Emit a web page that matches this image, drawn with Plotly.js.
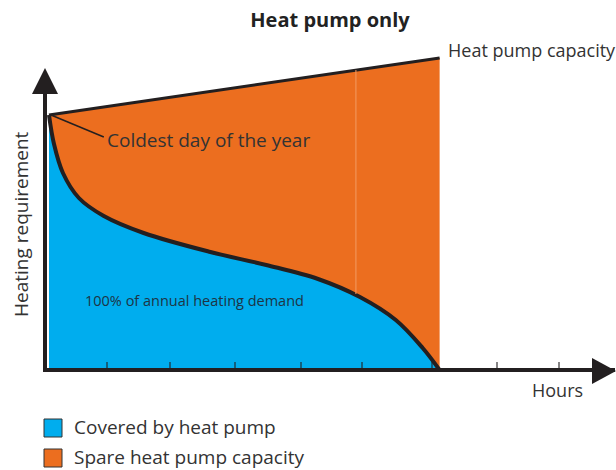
<!DOCTYPE html>
<html>
<head>
<meta charset="utf-8">
<script src="https://cdn.plot.ly/plotly-3.0.1.min.js"></script>
<style>html,body{margin:0;padding:0;background:#fff;}#chart{width:616px;height:470px;}</style>
</head>
<body>
<div id="chart"></div>
<script>
// Load-duration curve (hours on x, heating requirement on y), arbitrary units
var demandHours = [0, 5, 14, 30, 55, 95, 162, 218, 270, 312, 348, 375, 392];
var demandValue = [255, 226, 197, 172, 154, 137, 118, 105, 91, 73, 50, 22, 0];
var capacityHours = [0, 392];
var capacityValue = [255, 312];
var seamHours = [308, 308];
var seamValue = [76, 300];
var tickHours = [58, 121, 187, 253, 314, 384, 450, 512];

var BLUE = '#00adee', ORANGE = '#ec6e1f', INK = '#231f20', TXT = '#333333';
var FONT = 'Open Sans, sans-serif';

var traces = [
  {x: capacityHours, y: capacityValue, type: 'scatter', mode: 'lines', fill: 'tozeroy',
   fillcolor: ORANGE, line: {color: INK, width: 3}, hoverinfo: 'skip'},
  {x: demandHours, y: demandValue, type: 'scatter', mode: 'lines', fill: 'tozeroy',
   fillcolor: BLUE, line: {color: INK, width: 4, shape: 'spline', smoothing: 1}, hoverinfo: 'skip'},
  {x: seamHours, y: seamValue, type: 'scatter', mode: 'lines',
   line: {color: '#f39a62', width: 1}, hoverinfo: 'skip'}
];

// plot area: x px 47..615, y px 40..368
function px(x){ return (x - 47) / 568; }
function py(y){ return (368 - y) / 328; }

var ann = function(text, x, y, size, opts){
  var a = {text: text, xref: 'paper', yref: 'paper', x: px(x), y: py(y), showarrow: false,
    xanchor: 'left', yanchor: 'middle', font: {family: FONT, size: size, color: TXT}};
  for (var k in (opts||{})) a[k] = opts[k];
  return a;
};

var layout = {
  width: 616, height: 470,
  margin: {l: 47, r: 1, t: 40, b: 102},
  paper_bgcolor: '#fff', plot_bgcolor: '#fff',
  showlegend: false, hovermode: false,
  title: {text: '<b>Heat pump only</b>', x: 330/616, xref: 'container', xanchor: 'center',
          y: 1 - 20/470, yref: 'container', yanchor: 'middle',
          font: {family: FONT, size: 20, color: '#222'}},
  xaxis: {range: [-2, 568], showline: true, linewidth: 4, linecolor: INK, showgrid: false,
          zeroline: false, ticks: 'inside', ticklen: 6, tickwidth: 2, tickcolor: 'rgba(35,31,32,0.55)',
          tickvals: tickHours, ticktext: tickHours.map(function(){return '';}), fixedrange: true},
  yaxis: {range: [2, 330], showline: false, showgrid: false,
          zeroline: false, showticklabels: false, ticks: '', fixedrange: true},
  shapes: [
    {type: 'line', xref: 'paper', yref: 'paper', x0: px(45), x1: px(45), y0: py(372), y1: py(90),
     line: {color: INK, width: 4}},
    {type: 'path', xref: 'paper', yref: 'paper',
     path: 'M ' + px(45) + ' ' + py(68) + ' L ' + px(32) + ' ' + py(94) + ' L ' + px(58) + ' ' + py(94) + ' Z',
     fillcolor: INK, line: {width: 0}},
    {type: 'path', xref: 'paper', yref: 'paper',
     path: 'M ' + px(616) + ' ' + py(371) + ' L ' + px(592) + ' ' + py(358) + ' L ' + px(592) + ' ' + py(384) + ' Z',
     fillcolor: INK, line: {width: 0}},
    {type: 'line', xref: 'x', yref: 'y', x0: demandHours[0] + 2, y0: demandValue[0], x1: 55, y1: 233,
     line: {color: INK, width: 1.5}},
    {type: 'rect', xref: 'paper', yref: 'paper', x0: px(44), x1: px(62), y0: py(419), y1: py(437),
     fillcolor: BLUE, line: {color: '#333', width: 1}},
    {type: 'rect', xref: 'paper', yref: 'paper', x0: px(44), x1: px(62), y0: py(449), y1: py(467),
     fillcolor: ORANGE, line: {color: '#333', width: 1}}
  ],
  annotations: [
    ann('Heat pump capacity', 446, 50, 18),
    ann('Coldest day of the year', 105, 140, 19),
    ann('100% of annual heating demand', 83, 300, 14.5, {font: {family: FONT, size: 14.5, color: '#1e3445'}}),
    ann('Hours', 530, 390, 18),
    ann('Heating requirement', 21, 224, 19, {textangle: -90, xanchor: 'center'}),
    ann('Covered by heat pump', 72, 427, 19),
    ann('Spare heat pump capacity', 72, 457, 19)
  ]
};

Plotly.newPlot('chart', traces, layout, {staticPlot: true, displayModeBar: false});
</script>
</body>
</html>
